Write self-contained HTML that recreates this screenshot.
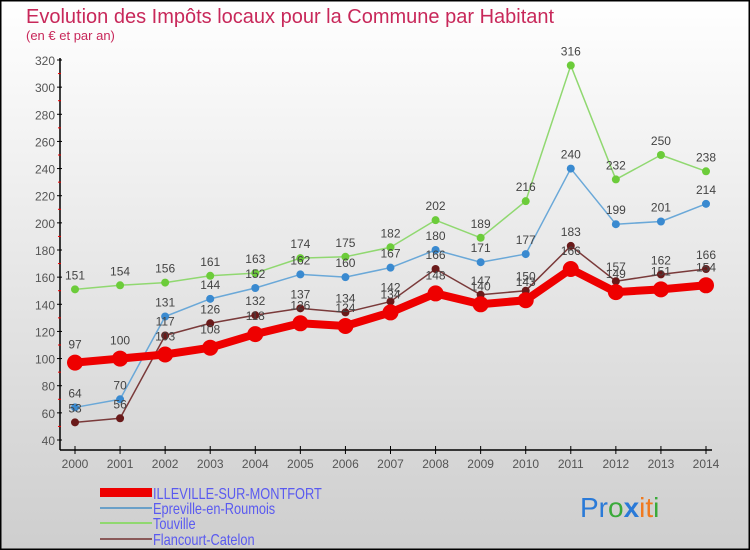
<!DOCTYPE html>
<html><head><meta charset="utf-8"><style>
body{margin:0;}
#wrap{position:relative;width:750px;height:550px;overflow:hidden;font-family:"Liberation Sans",sans-serif;}
svg text{font-family:"Liberation Sans",sans-serif;}
</style></head><body>
<div id="wrap">
<svg id="chart" width="750" height="550" xmlns="http://www.w3.org/2000/svg">
<defs><linearGradient id="bg" x1="0" y1="0" x2="0" y2="1"><stop offset="0" stop-color="#ffffff"/><stop offset="1" stop-color="#cecece"/></linearGradient></defs>
<rect x="0.5" y="0.5" width="749" height="549" fill="url(#bg)" stroke="#000" stroke-width="2"/>
<text x="26" y="23" font-size="20" fill="#c8285a">Evolution des Impôts locaux pour la Commune par Habitant</text>
<text x="26" y="40" font-size="13" fill="#c8285a">(en € et par an)</text>
<g id="axes"></g>
<g id="series"></g>
<g id="legend">
<rect x="100" y="488" width="52" height="9" fill="#ee0000"/>
<text transform="translate(153,499) scale(0.8,1)" font-size="16" fill="#5a5af0">ILLEVILLE-SUR-MONTFORT</text>
<rect x="100" y="507" width="52" height="2" fill="#6aa0c8"/>
<text transform="translate(153,514) scale(0.8,1)" font-size="16" fill="#5a5af0">Epreville-en-Roumois</text>
<rect x="100" y="522" width="52" height="2" fill="#90d870"/>
<text transform="translate(153,529) scale(0.8,1)" font-size="16" fill="#5a5af0">Touville</text>
<rect x="100" y="538" width="52" height="2" fill="#8a5a5a"/>
<text transform="translate(153,545) scale(0.8,1)" font-size="16" fill="#5a5af0">Flancourt-Catelon</text>
</g>
<g font-size="28" font-family="Liberation Sans,sans-serif">
<text x="580" y="517"><tspan fill="#2a7ad8">Pr</tspan><tspan fill="#3aaa3a">o</tspan><tspan fill="#2a7ad8" font-weight="bold">x</tspan><tspan fill="#f07a20">it</tspan><tspan fill="#3aaa3a">i</tspan></text>
</g>
</svg>
</div>
<script>
const years = ["2000","2001","2002","2003","2004","2005","2006","2007","2008","2009","2010","2011","2012","2013","2014"];
const illeville = [97,100,103,108,118,126,124,134,148,140,143,166,149,151,154];
const epreville = [64,70,131,144,152,162,160,167,180,171,177,240,199,201,214];
const touville = [151,154,156,161,163,174,175,182,202,189,216,316,232,250,238];
const flancourt = [53,56,117,126,132,137,134,142,166,147,150,183,157,162,166];
const yTicks = [40,60,80,100,120,140,160,180,200,220,240,260,280,300,320];

const NS="http://www.w3.org/2000/svg";
function xPos(i){return 75+i*(706-75)/(years.length-1);}
function yPos(v){return 440-(v-40)*380/280;}
function mk(tag,attrs,parent){const e=document.createElementNS(NS,tag);for(const k in attrs)e.setAttribute(k,attrs[k]);parent.appendChild(e);return e;}
const axes=document.getElementById('axes');
const ax=mk('line',{x1:60,y1:58,x2:60,y2:450,stroke:'#000','stroke-width':1.5},axes);


const xa=mk('line',{x1:60,y1:450,x2:712,y2:450,stroke:'#000','stroke-width':1.5},axes);


yTicks.forEach((t,i)=>{
  const y=yPos(t);
  mk('line',{x1:57,y1:y,x2:62,y2:y,stroke:'#000'},axes);
  if(i<yTicks.length-1){mk('line',{x1:58,y1:yPos(t+10),x2:61,y2:yPos(t+10),stroke:'#e00'},axes);}
  const tx=mk('text',{x:55,y:y+5,'font-size':12,'text-anchor':'end',fill:'#555'},axes);
  tx.textContent=t;
  
  
});
years.forEach((yr,i)=>{
  const x=xPos(i);
  mk('line',{x1:x,y1:446,x2:x,y2:454,stroke:'#000'},axes);
  const tx=mk('text',{x:x,y:468,'font-size':12,'text-anchor':'middle',fill:'#555'},axes);
  tx.textContent=yr;
  
  
});
const ser=document.getElementById('series');
const defs=[
 {d:touville,c:'#90d870',m:'#6ccc3a',w:1.5,r:4,n:'touville'},
 {d:epreville,c:'#6aa8d8',m:'#3a8ad0',w:1.5,r:4,n:'epreville'},
 {d:flancourt,c:'#7a3a3a',m:'#6a1a1a',w:1.5,r:4,n:'flancourt'},
 {d:illeville,c:'#ee0000',m:'#ee0000',w:8,r:8,n:'illeville'}
];
defs.forEach(s=>{
  const g=mk('g',{},ser);
  
  
  const pts=s.d.map((v,i)=>xPos(i)+','+yPos(v)).join(' ');
  const pl=mk('polyline',{points:pts,fill:'none',stroke:s.c,'stroke-width':s.w,'stroke-linejoin':'round'},g);
  
  
  s.d.forEach((v,i)=>{
    const c=mk('circle',{cx:xPos(i),cy:yPos(v),r:s.r,fill:s.m},g);
    
    
    const t=mk('text',{x:xPos(i),y:yPos(v)-(s.r+6),'font-size':12,'text-anchor':'middle',fill:'#444'},g);
    t.textContent=v;
    
    
  });
});
</script>
</body></html>
